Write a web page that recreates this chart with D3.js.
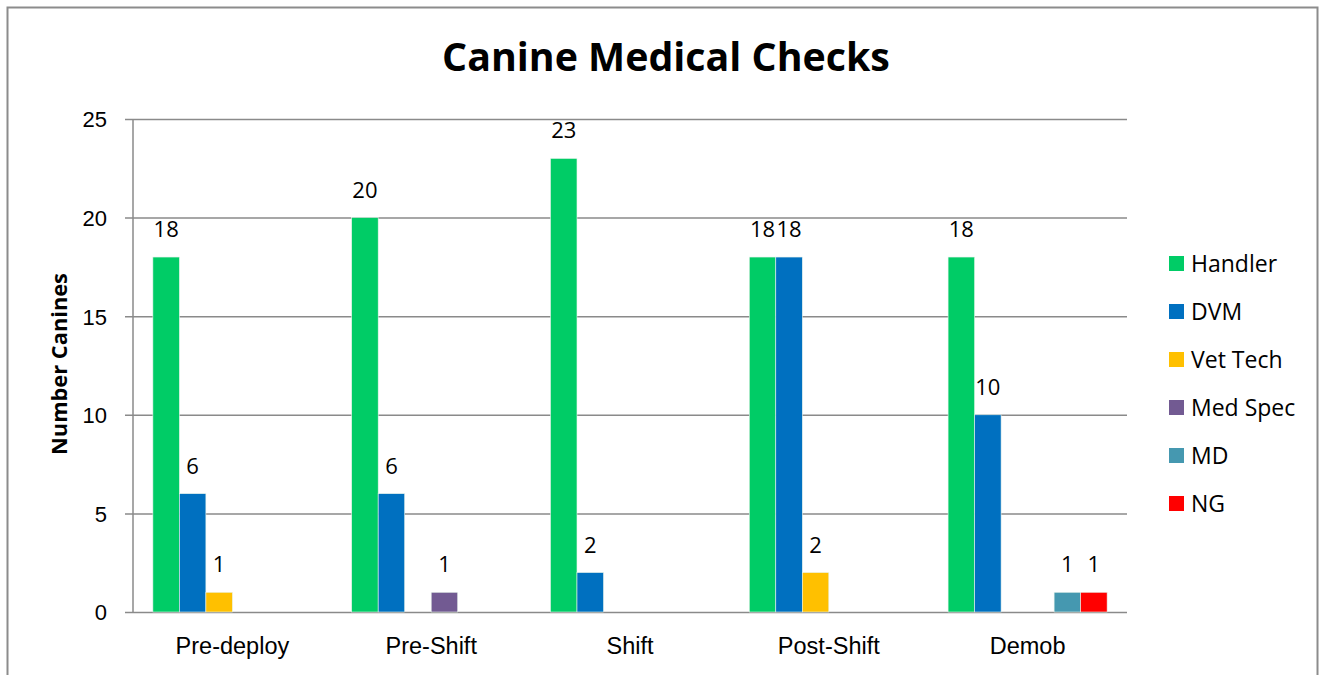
<!DOCTYPE html>
<html>
<head>
<meta charset="utf-8">
<script src="https://cdn.jsdelivr.net/npm/d3@7"></script>
<style>
  html, body { margin: 0; padding: 0; background: #fff; }
  svg { display: block; font-family: "Open Sans", Lato, sans-serif; }
</style>
</head>
<body>
<svg id="chart" width="1325" height="675"></svg>
<script>
// Check phases along the x axis
const categories = ["Pre-deploy", "Pre-Shift", "Shift", "Post-Shift", "Demob"];

// Who performed the checks, one array per series (counts per phase)
const seriesNames = ["Handler", "DVM", "Vet Tech", "Med Spec", "MD", "NG"];
const handler = [18, 20, 23, 18, 18];
const dvm     = [6, 6, 2, 18, 10];
const vetTech = [1, 0, 0, 2, 0];
const medSpec = [0, 1, 0, 0, 0];
const md      = [0, 0, 0, 0, 1];
const ng      = [0, 0, 0, 0, 1];
const seriesValues = [handler, dvm, vetTech, medSpec, md, ng];
const seriesColors = ["#00CC66", "#0070C0", "#FFC000", "#725A92", "#4598B0", "#FF0000"];

const yTicks = [0, 5, 10, 15, 20, 25];

const svg = d3.select("#chart");

// Outer chart frame (bottom edge runs past the canvas)
svg.append("rect")
  .attr("x", 7.5).attr("y", 7.5)
  .attr("width", 1310).attr("height", 700)
  .attr("fill", "none")
  .attr("stroke", "#8c8c8c")
  .attr("stroke-width", 2);

const plot = { left: 133, right: 1127, top: 119, bottom: 612 };

const x0 = d3.scaleBand()
  .domain(categories)
  .range([plot.left, plot.right])
  .paddingInner(0.2)
  .paddingOuter(0.1);

const x1 = d3.scaleBand()
  .domain(seriesNames)
  .range([0, x0.bandwidth()]);

const y = d3.scaleLinear()
  .domain([0, 25])
  .range([plot.bottom, plot.top]);

// Horizontal gridlines with short ticks on the left
const yAxis = d3.axisLeft(y)
  .tickValues(yTicks)
  .tickSize(-(plot.right - plot.left))
  .tickSizeOuter(0)
  .tickPadding(26);

const gy = svg.append("g")
  .attr("transform", `translate(${plot.left},0)`)
  .call(yAxis);
gy.select(".domain").remove();
gy.selectAll(".tick line")
  .attr("x1", -8)
  .attr("stroke", "#8a8a8a")
  .attr("stroke-width", 1.5);
gy.selectAll(".tick text")
  .attr("font-size", 22)
  .attr("dy", "0.36em")
  .attr("fill", "#000");

// Vertical axis line
svg.append("line")
  .attr("x1", plot.left).attr("x2", plot.left)
  .attr("y1", plot.top).attr("y2", plot.bottom)
  .attr("stroke", "#8a8a8a")
  .attr("stroke-width", 1.5);

// Category labels
const xAxis = d3.axisBottom(x0).tickSize(0).tickPadding(42);
const gx = svg.append("g")
  .attr("transform", `translate(0,${plot.bottom})`)
  .call(xAxis);
gx.select(".domain").remove();
gx.selectAll(".tick text")
  .attr("dy", 0)
  .attr("font-size", 23.5)
  .attr("fill", "#000");

// Bars
const rows = [];
categories.forEach((c, ci) => {
  seriesNames.forEach((s, si) => {
    rows.push({ cat: c, series: s, value: seriesValues[si][ci], color: seriesColors[si] });
  });
});
const nonZero = rows.filter(d => d.value > 0);

svg.append("g")
  .selectAll("rect")
  .data(nonZero)
  .join("rect")
  .attr("x", d => x0(d.cat) + x1(d.series))
  .attr("y", d => y(d.value))
  .attr("width", x1.bandwidth())
  .attr("height", d => y(0) - y(d.value))
  .attr("fill", d => d.color)
  .attr("stroke", "#e8f4ec")
  .attr("stroke-width", 0.6);

// Value labels above bars
svg.append("g")
  .selectAll("text")
  .data(nonZero)
  .join("text")
  .attr("x", d => x0(d.cat) + x1(d.series) + x1.bandwidth() / 2)
  .attr("y", d => y(d.value) - 20)
  .attr("text-anchor", "middle")
  .attr("font-size", 22)
  .attr("fill", "#000")
  .text(d => d.value);

// Scale a text's font so its rendered width matches a target
function fitWidth(sel, target) {
  const size = +sel.attr("font-size");
  const w = sel.node().getComputedTextLength();
  if (w > 0) sel.attr("font-size", size * target / w);
}

// Title
const title = svg.append("text")
  .attr("x", 666)
  .attr("y", 71)
  .attr("text-anchor", "middle")
  .attr("font-size", 38)
  .attr("font-weight", "bold")
  .attr("fill", "#000")
  .text("Canine Medical Checks");
fitWidth(title, 448);

// Y-axis title
const yTitle = svg.append("text")
  .attr("transform", "translate(67,364) rotate(-90)")
  .attr("text-anchor", "middle")
  .attr("font-size", 20)
  .attr("font-weight", "bold")
  .attr("fill", "#000")
  .text("Number Canines");
fitWidth(yTitle, 182);

// Legend
const legend = svg.append("g")
  .selectAll("g")
  .data(seriesNames)
  .join("g")
  .attr("transform", (d, i) => `translate(1169,${256 + i * 48})`);
legend.append("rect")
  .attr("x", 0).attr("y", 0)
  .attr("width", 15).attr("height", 15)
  .attr("fill", (d, i) => seriesColors[i]);
legend.append("text")
  .attr("x", 22)
  .attr("y", 16)
  .attr("font-size", 23)
  .attr("fill", "#000")
  .text(d => d);
</script>
</body>
</html>
